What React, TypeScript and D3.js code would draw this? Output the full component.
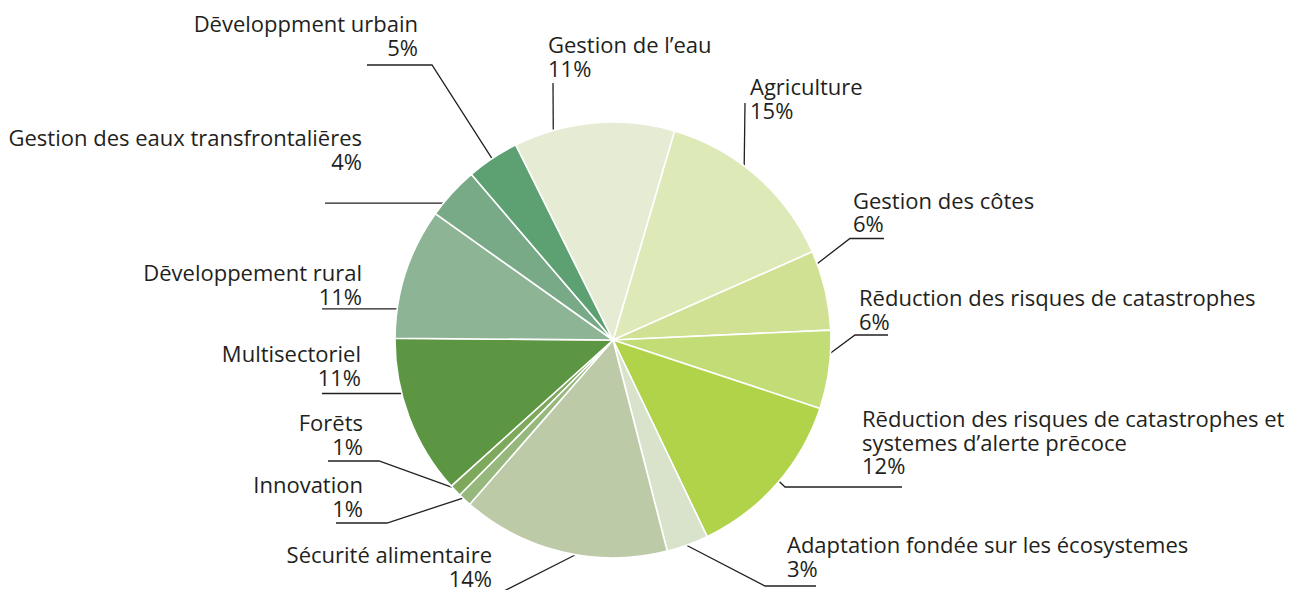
import React from 'react'
import * as d3 from 'd3'

// slices clockwise from Agriculture (shares, % of total)
const categories = [
    'Agriculture', 'Gestion des côtes', 'Rēduction des risques de catastrophes',
    'Rēduction des risques de catastrophes et systemes d’alerte prēcoce',
    'Adaptation fondée sur les écosystemes', 'Sécurité alimentaire', 'Innovation', 'Forēts',
    'Multisectoriel', 'Dēveloppement rural', 'Gestion des eaux transfrontaliēres',
    'Dēveloppment urbain', 'Gestion de l’eau'
]
const shares = [13.8, 5.9, 5.8, 12.8, 3.1, 15.4, 1.0, 0.9, 11.8, 9.7, 3.9, 3.9, 11.9]
const percentLabels = ['15%', '6%', '6%', '12%', '3%', '14%', '1%', '1%', '11%', '11%', '4%', '5%', '11%']
const colors = [
    '#dde9b6', '#d0e194', '#c2dc76', '#b1d34a', '#d9e2cb', '#bccaa7', '#96b87c', '#7ea85c',
    '#5d9643', '#8db595', '#78aa87', '#5da071', '#e6ecd4'
]

// label layout: text lines, anchor, x, first baseline; leader: touch angle (deg), elbow, end x
const labelLayout = [
    { lines: ['Agriculture'], anchor: 'start', x: 750, y: 95, touch: 37, elbow: [745, 103], endX: 745 },
    { lines: ['Gestion des côtes'], anchor: 'start', x: 853, y: 208.5, touch: 69.5, elbow: [850, 238.5], endX: 884 },
    { lines: ['Rēduction des risques de catastrophes'], anchor: 'start', x: 859, y: 306, touch: 93.4, elbow: [855, 335], endX: 888 },
    { lines: ['Rēduction des risques de catastrophes et', 'systemes d’alerte prēcoce'], anchor: 'start', x: 862, y: 427, touch: 130.4, elbow: [785, 487], endX: 902 },
    { lines: ['Adaptation fondée sur les écosystemes'], anchor: 'start', x: 787, y: 553, touch: 160.3, elbow: [765, 586], endX: 816 },
    { lines: ['Sécurité alimentaire'], anchor: 'end', x: 492, y: 563, touch: 189.9, elbow: [500, 593], endX: 440 },
    { lines: ['Innovation'], anchor: 'end', x: 363, y: 493, touch: 223.5, elbow: [387, 523], endX: 336 },
    { lines: ['Forēts'], anchor: 'end', x: 363, y: 431, touch: 227.5, elbow: [379, 461], endX: 328 },
    { lines: ['Multisectoriel'], anchor: 'end', x: 361, y: 362, touch: 255.8, elbow: null, endX: 322 },
    { lines: ['Dēveloppement rural'], anchor: 'end', x: 362, y: 281, touch: 278.2, elbow: null, endX: 322 },
    { lines: ['Gestion des eaux transfrontaliēres'], anchor: 'end', x: 362, y: 146, touch: 308.9, elbow: null, endX: 325 },
    { lines: ['Dēveloppment urbain'], anchor: 'end', x: 418, y: 32, touch: 326.3, elbow: [432, 65], endX: 367 },
    { lines: ['Gestion de l’eau'], anchor: 'start', x: 548, y: 53, touch: 344.1, elbow: [553, 83], endX: 553 },
]

const width = 1298
const height = 590
const cx = 613
const cy = 340
const radius = 218
const startDeg = 16.4
const lineGap = 23.7
const textColor = '#231f20'

const App = () => {
    const pieGen = d3.pie<number>().sort(null).value((d) => d)
        .startAngle(startDeg * Math.PI / 180)
        .endAngle(startDeg * Math.PI / 180 + 2 * Math.PI)
    const arcGen = d3.arc<d3.PieArcDatum<number>>().innerRadius(0).outerRadius(radius)
    const slices = pieGen(shares)

    const leader = (l: typeof labelLayout[number]) => {
        const a = l.touch * Math.PI / 180
        const px = cx + radius * Math.sin(a)
        const py = cy - radius * Math.cos(a)
        const pts: [number, number][] = [[px, py]]
        if (l.elbow) {
            pts.push([l.elbow[0], l.elbow[1]])
            if (l.endX !== l.elbow[0]) pts.push([l.endX, l.elbow[1]])
        } else {
            pts.push([l.endX, py])
        }
        return d3.line()(pts) as string
    }

    return (
        <svg width={width} height={height} style={{ position: 'absolute', left: 0, top: 0 }}
            fontFamily="'Open Sans', 'Noto Sans', sans-serif">
            <rect width={width} height={height} fill="#ffffff" />
            {labelLayout.map((l, i) => (
                <path key={'l' + i} d={leader(l)} fill="none" stroke={textColor} strokeWidth={1.3} />
            ))}
            <g transform={`translate(${cx},${cy})`}>
                {slices.map((s, i) => (
                    <path key={categories[i]} d={arcGen(s) as string} fill={colors[i]}
                        stroke="#ffffff" strokeWidth={1.6} strokeLinejoin="round" />
                ))}
            </g>
            {labelLayout.map((l, i) => (
                <text key={'t' + i} textAnchor={l.anchor} fill={textColor} fontSize={22}>
                    {[...l.lines, percentLabels[i]].map((line, j) => (
                        <tspan key={j} x={l.x} y={l.y + j * lineGap}>{line}</tspan>
                    ))}
                </text>
            ))}
        </svg>
    )
}

export default App
